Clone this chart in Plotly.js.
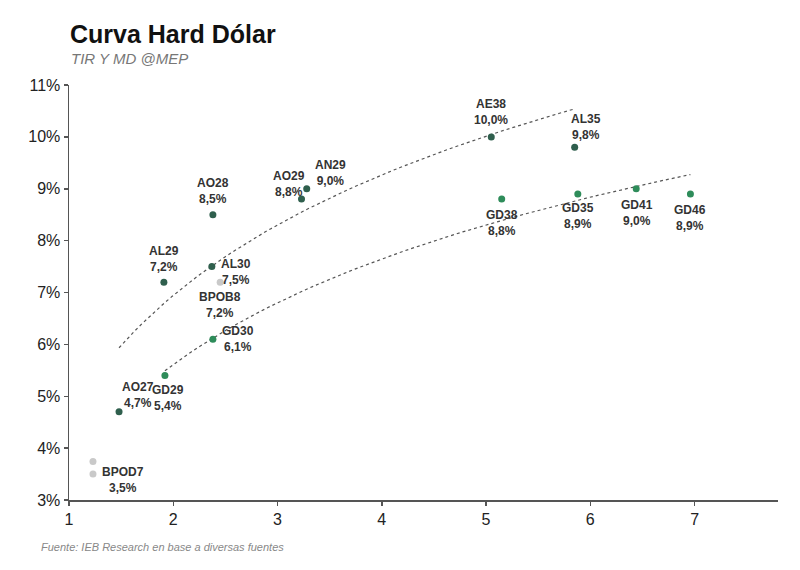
<!DOCTYPE html>
<html>
<head>
<meta charset="utf-8">
<script src="https://cdn.plot.ly/plotly-3.0.1.min.js"></script>
<style>
  body { margin: 0; background: #fff; }
  #chart { width: 800px; height: 570px; }
</style>
</head>
<body>
<div id="chart"></div>
<script>
// Bonos Ley Argentina (AL / AE / AO / AN): duración modificada y TIR
var alNames = ['AO27', 'AL29', 'AL30', 'AO28', 'AO29', 'AN29', 'AE38', 'AL35'];
var alMD = [1.48, 1.91, 2.37, 2.38, 3.23, 3.28, 5.05, 5.85];
var alTIR = [4.7, 7.2, 7.5, 8.5, 8.8, 9.0, 10.0, 9.8];

// Bonos Ley NY (GD)
var gdNames = ['GD29', 'GD30', 'GD38', 'GD35', 'GD41', 'GD46'];
var gdMD = [1.92, 2.38, 5.15, 5.88, 6.44, 6.96];
var gdTIR = [5.4, 6.1, 8.8, 8.9, 9.0, 8.9];

// BOPREAL
var bpNames = ['BPOC7', 'BPOD7', 'BPOB8'];
var bpMD = [1.23, 1.23, 2.45];
var bpTIR = [3.74, 3.5, 7.2];
var bpShowLabel = [false, true, true];

var yTicks = [3, 4, 5, 6, 7, 8, 9, 10, 11];
var xTicks = [1, 2, 3, 4, 5, 6, 7];

// label offsets in px (dx, dy from the point to the label centre)
var labelOffsets = {
    AO27: [19, -17], AL29: [0, -23], AL30: [24, 5], AO28: [0, -24],
    AO29: [-13, -15], AN29: [24, -16], AE38: [0, -25], AL35: [11, -20],
    GD29: [3, 22], GD30: [25, 0], GD38: [0, 24], GD35: [0, 22],
    GD41: [1, 24], GD46: [0, 24], BPOD7: [30, 6], BPOB8: [0, 23]
};

// logarithmic trend line (least squares on ln x), like Excel
function logTrend(xs, ys) {
    var n = xs.length, lx = xs.map(Math.log);
    var mx = lx.reduce((a, b) => a + b, 0) / n;
    var my = ys.reduce((a, b) => a + b, 0) / n;
    var sxy = 0, sxx = 0;
    for (var i = 0; i < n; i++) {
        sxy += (lx[i] - mx) * (ys[i] - my);
        sxx += (lx[i] - mx) * (lx[i] - mx);
    }
    var b = sxy / sxx, a = my - b * mx;
    var x0 = Math.min.apply(null, xs), x1 = Math.max.apply(null, xs);
    var tx = [], ty = [];
    for (var k = 0; k <= 60; k++) {
        var x = x0 + (x1 - x0) * k / 60;
        tx.push(x);
        ty.push(a + b * Math.log(x));
    }
    return { x: tx, y: ty };
}

var alFit = logTrend(alMD, alTIR);
var gdFit = logTrend(gdMD, gdTIR);

var trendStyle = { color: '#555', width: 1.2, dash: 'dot' };

var data = [
    { x: alFit.x, y: alFit.y, mode: 'lines', line: trendStyle, hoverinfo: 'skip' },
    { x: gdFit.x, y: gdFit.y, mode: 'lines', line: trendStyle, hoverinfo: 'skip' },
    {
        x: alMD, y: alTIR, text: alNames, mode: 'markers', name: 'Ley Arg',
        marker: { size: 7, color: '#2f5f4d' }
    },
    {
        x: gdMD, y: gdTIR, text: gdNames, mode: 'markers', name: 'Ley NY',
        marker: { size: 7, color: '#2e8c5a' }
    },
    {
        x: bpMD, y: bpTIR, text: bpNames, mode: 'markers', name: 'BOPREAL',
        marker: { size: 7, color: '#c9c9c9' }
    }
];

function fmtPct(v) {
    return v.toFixed(1).replace('.', ',') + '%';
}

var annotations = [];
function addLabels(names, xs, ys, show) {
    names.forEach(function(n, i) {
        if (show && !show[i]) return;
        var off = labelOffsets[n] || [0, -22];
        annotations.push({
            x: xs[i], y: ys[i], xref: 'x', yref: 'y',
            text: '<b>' + n + '<br>' + fmtPct(ys[i]) + '</b>',
            showarrow: false, xshift: off[0], yshift: -off[1],
            font: { family: 'Liberation Sans, Arial, sans-serif', size: 12, color: '#333' },
            align: 'center'
        });
    });
}
addLabels(alNames, alMD, alTIR);
addLabels(gdNames, gdMD, gdTIR);
addLabels(bpNames, bpMD, bpTIR, bpShowLabel);

// titles and source
annotations.push({
    xref: 'paper', yref: 'paper', x: 0, y: 1, xanchor: 'left', yanchor: 'bottom',
    xshift: -1, yshift: 35, showarrow: false,
    text: '<b>Curva Hard Dólar</b>',
    font: { family: 'Liberation Sans, Arial, sans-serif', size: 25, color: '#111' }
});
annotations.push({
    xref: 'paper', yref: 'paper', x: 0, y: 1, xanchor: 'left', yanchor: 'bottom',
    yshift: 16, showarrow: false,
    text: '<i>TIR Y MD @MEP</i>',
    font: { family: 'Liberation Sans, Arial, sans-serif', size: 15, color: '#777' }
});
annotations.push({
    xref: 'paper', yref: 'paper', x: 0, y: 0, xanchor: 'left', yanchor: 'top',
    xshift: -30, yshift: -39, showarrow: false,
    text: '<i>Fuente: IEB Research en base a diversas fuentes</i>',
    font: { family: 'Liberation Sans, Arial, sans-serif', size: 11, color: '#888' }
});

var axisFont = { family: 'Liberation Sans, Arial, sans-serif', size: 16, color: '#222' };

var layout = {
    width: 800, height: 570,
    margin: { l: 69, r: 22, t: 85, b: 70 },
    paper_bgcolor: '#fff', plot_bgcolor: '#fff',
    showlegend: false,
    xaxis: {
        range: [1, 7.8], tickvals: xTicks, ticktext: xTicks.map(String),
        showgrid: false, zeroline: false, showline: true,
        linecolor: '#555', linewidth: 1.5,
        ticks: 'outside', ticklen: 4, tickcolor: '#555', tickwidth: 1.5,
        tickfont: axisFont
    },
    yaxis: {
        range: [3, 11], tickvals: yTicks, ticktext: yTicks.map(v => v + '%'),
        showgrid: false, zeroline: false, showline: true,
        linecolor: '#555', linewidth: 1.5,
        ticks: 'outside', ticklen: 4, tickcolor: '#555', tickwidth: 1.5,
        tickfont: axisFont
    },
    annotations: annotations
};

Plotly.newPlot('chart', data, layout, { displayModeBar: false, staticPlot: true });
</script>
</body>
</html>
